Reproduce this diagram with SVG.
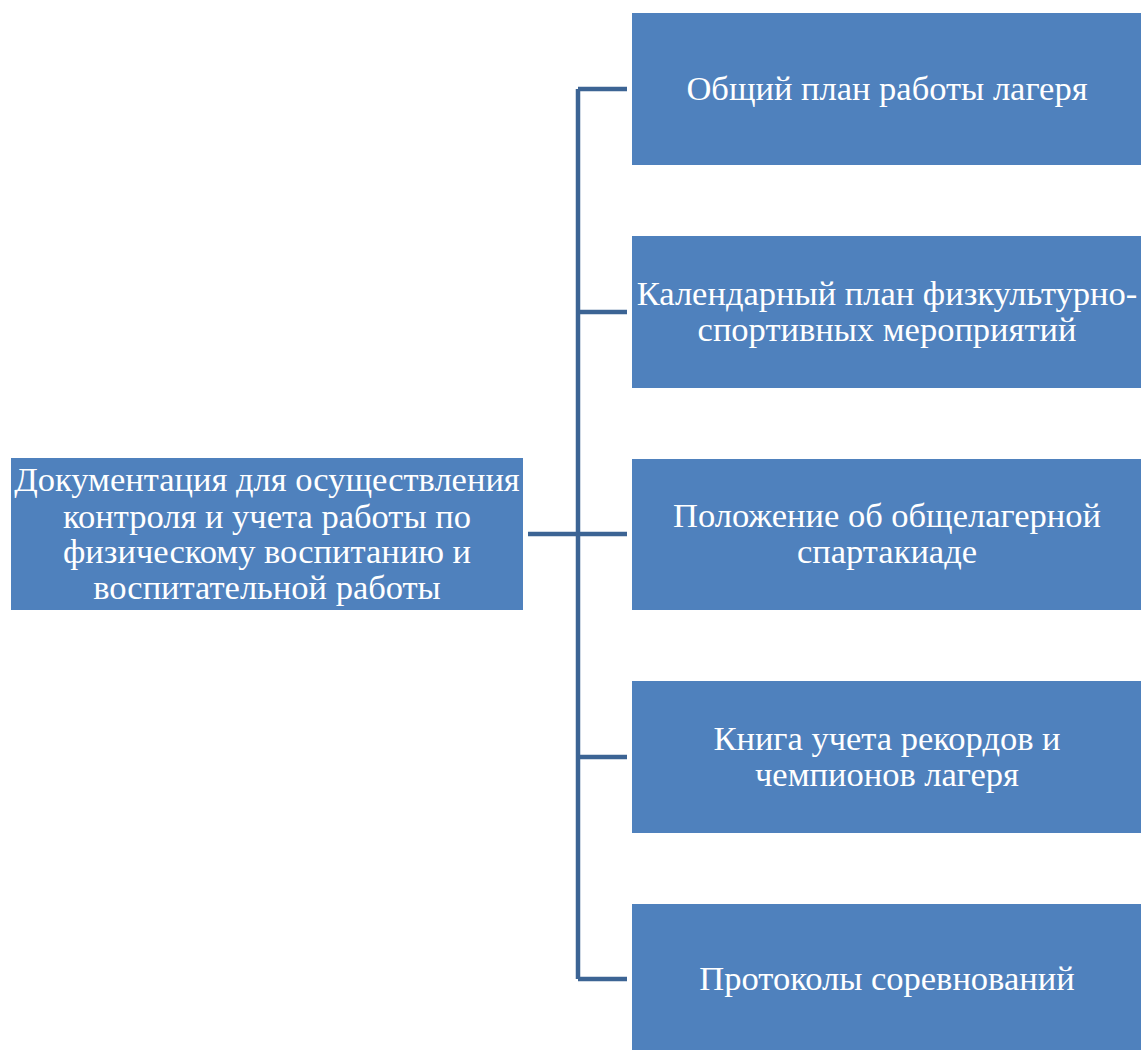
<svg xmlns="http://www.w3.org/2000/svg" width="1141" height="1050" viewBox="0 0 1141 1050">
<style>
.box{fill:#4F81BD;}
.t{font-family:'Liberation Serif','DejaVu Serif',serif;font-size:34.5px;fill:#FFFFFF;text-anchor:middle;}
.c{stroke:#3C6494;stroke-width:4.5;fill:none;}
</style>
<rect width="1141" height="1050" fill="#FFFFFF"/>
<g id="connectors">
<path class="c" d="M528 534H627M578 89V979M578 89H627M578 312H627M578 757H627M578 979H627"/>
</g>
<g id="root">
<rect class="box" x="11" y="458" width="512" height="152"/>
<text class="t" x="267" y="491">Документация для осуществления</text>
<text class="t" x="267" y="527.5">контроля и учета работы по</text>
<text class="t" x="267" y="563">физическому воспитанию и</text>
<text class="t" x="267" y="599">воспитательной работы</text>
</g>
<g id="n1">
<rect class="box" x="632" y="13" width="509" height="152"/>
<text class="t" x="887" y="100">Общий план работы лагеря</text>
</g>
<g id="n2">
<rect class="box" x="632" y="236" width="509" height="152"/>
<text class="t" x="887" y="305">Календарный план физкультурно-</text>
<text class="t" x="887" y="341">спортивных мероприятий</text>
</g>
<g id="n3">
<rect class="box" x="632" y="459" width="509" height="151"/>
<text class="t" x="887" y="527">Положение об общелагерной</text>
<text class="t" x="887" y="563">спартакиаде</text>
</g>
<g id="n4">
<rect class="box" x="632" y="681" width="509" height="152"/>
<text class="t" x="887" y="750">Книга учета рекордов и</text>
<text class="t" x="887" y="786">чемпионов лагеря</text>
</g>
<g id="n5">
<rect class="box" x="632" y="904" width="509" height="146"/>
<text class="t" x="887" y="990">Протоколы соревнований</text>
</g>
</svg>
